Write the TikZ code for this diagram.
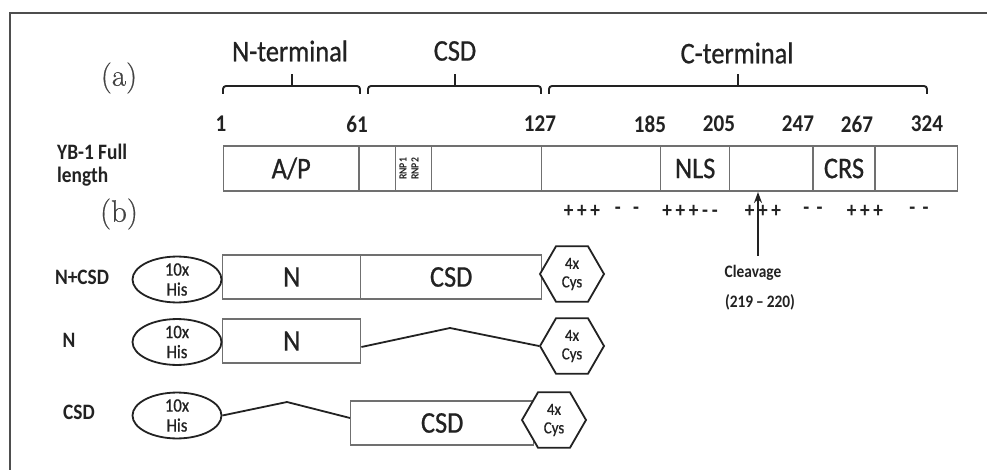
\documentclass[tikz,border=0pt]{standalone}
\usepackage{fontspec}
\newfontfamily\cali[FakeStretch=0.88, FakeBold=0.7]{Carlito}
\newfontfamily\calb[FakeStretch=0.88, UprightFont=* Bold]{Carlito}
\newfontfamily\panelfont[FakeBold=0.5]{Latin Modern Roman}
\usetikzlibrary{shapes.geometric,arrows.meta}
\newcommand\myfs[2]{\fontsize{#1}{#2}\selectfont}
\definecolor{ink}{HTML}{222222}
\definecolor{boxline}{HTML}{707070}
\begin{document}
\begin{tikzpicture}[x=1pt,y=-1pt,
  frameline/.style={draw=ink!80, line width=1.6pt},
  bracepath/.style={draw=ink, line width=1.9pt, rounded corners=3pt},
  head/.style={font=\cali\myfs{30}{32}, text=ink, inner sep=0},
  num/.style={font=\calb\myfs{24}{26}, text=ink, inner sep=0},
  seg/.style={draw=boxline, line width=1.4pt, minimum height=45, inner sep=0, anchor=west, font=\cali\myfs{30}{32}, text=ink},
  rowbox/.style={draw=boxline, line width=1.4pt, minimum height=44, inner sep=0, anchor=west, font=\cali\myfs{30}{32}, text=ink},
  rowlab/.style={font=\calb\myfs{22}{23}, text=ink, inner sep=0},
  his/.style={ellipse, draw=ink, line width=1.8pt, minimum width=89, minimum height=45, inner sep=0, align=center, font=\cali\myfs{19}{20}, text=ink, fill=white},
  hex/.style={regular polygon, regular polygon sides=6, draw=ink, line width=1.8pt, minimum size=64, inner sep=0, align=center, font=\cali\myfs{17}{18.5}, text=ink, fill=white},
  conn/.style={draw=ink, line width=1.8pt},
  charge/.style={font=\calb\myfs{22}{22}, text=ink, inner sep=0},
  cleav/.style={font=\calb\myfs{17.5}{18}, text=ink, inner sep=0},
  panel/.style={font=\panelfont\myfs{31}{33}, text=ink!85, inner sep=0}
]
\useasboundingbox (0,0) rectangle (987,470);
\fill[white] (0,0) rectangle (987,470);
\draw[frameline] (10,470) -- (10,13) -- (987,13);

% panel labels
\node[panel] (pa) at (119,78) {(a)};
\node[panel] (pb) at (119,214) {(b)};

% headers and braces
\node[head] (hN) at (290,51) {N-terminal};
\node[head] (hC) at (455,51) {CSD};
\node[head] (hT) at (737,53) {C-terminal};
\draw[bracepath] (223,94) -- (223,86) -- (360,86) -- (360,94);
\draw[bracepath] (292,86) -- (292,74);
\draw[bracepath] (368,94) -- (368,86) -- (541,86) -- (541,94);
\draw[bracepath] (455,86) -- (455,74);
\draw[bracepath] (549,94) -- (549,86) -- (927,86) -- (927,94);
\draw[bracepath] (738,86) -- (738,74);

% residue numbers
\node[num] (n1) at (221,124) {1};
\node[num] (n61) at (357,124) {61};
\node[num] (n127) at (540,124) {127};
\node[num] (n185) at (650,124) {185};
\node[num] (n205) at (719,124) {205};
\node[num] (n247) at (798,124) {247};
\node[num] (n267) at (857,124) {267};
\node[num] (n324) at (927,124) {324};

% full length label
\node[rowlab, anchor=west, align=left] (yb) at (57,165) {YB-1 Full\\length};

% full-length bar
\node[seg, minimum width=135.6] (s1) at (222.7,168.5) {A/P};
\node[seg, minimum width=36.7] (s2) at (358.3,168.5) {};
\node[seg, minimum width=36] (s3) at (395,168.5) {};
\node[seg, minimum width=109.7] (s4) at (431,168.5) {};
\node[seg, minimum width=119.3] (s5) at (540.7,168.5) {};
\node[seg, minimum width=69] (s6) at (660,168.5) {NLS};
\node[seg, minimum width=83.3] (s7) at (729,168.5) {};
\node[seg, minimum width=62] (s8) at (812.3,168.5) {CRS};
\node[seg, minimum width=82.4] (s9) at (874.3,168.5) {};
\node[rotate=90, font=\calb\myfs{11}{12}, text=ink, inner sep=0] (r1) at (403,169) {RNP1};
\node[rotate=90, font=\calb\myfs{11}{12}, text=ink, inner sep=0] (r2) at (415,169) {RNP2};

% charges
\node[charge] (c1) at (582,211) {+\,+\,+};
\node[charge] (c2) at (627,211) {-\;\;-};
\node[charge] (c3) at (690,211) {+\,+\,+\,-\,-};
\node[charge] (c4) at (763,211) {+\,+\,+};
\node[charge] (c5) at (813,211) {-\,\,-};
\node[charge] (c6) at (865,211) {+\,+\,+};
\node[charge] (c7) at (919,211) {-\,\,-};

% cleavage arrow
\coordinate (clb) at (758,256);
\coordinate (clt) at (758,192);
\draw[conn, -{Stealth[length=11pt,width=8pt]}] (clb) -- (clt);
\node[cleav] (clv) at (753,273) {Cleavage};
\node[cleav] (clr) at (760,302) {(219\,–\,220)};

% (b) constructs
\node[rowlab] (l1) at (82,277) {N+CSD};
\node[rowlab] (l2) at (69,340) {N};
\node[rowlab] (l3) at (79,412) {CSD};

% row 1
\node[rowbox, minimum width=138] (n1b) at (222,277) {N};
\node[rowbox, minimum width=181] (c1b) at (360,277) {CSD};
\node[his] (e1) at (177,279.5) {10x\\His};
\node[hex] (h1) at (572,274) {4x\\Cys};

% row 2
\node[rowbox, minimum width=138] (n2b) at (222,341) {N};
\node[his] (e2) at (177,342) {10x\\His};
\node[hex] (h2) at (572,346) {4x\\Cys};
\coordinate (pk2) at (450,328);
\draw[conn] ([yshift=-6pt]n2b.east) -- (pk2) -- (h2.west);

% row 3
\node[rowbox, minimum width=183] (c3b) at (350,423) {CSD};
\node[his] (e3) at (177,415.5) {10x\\His};
\node[hex] (h3) at (554,420) {4x\\Cys};
\coordinate (pk3) at (287,402);
\draw[conn] (e3.east) -- (pk3) -- ([yshift=5pt]c3b.west);
\end{tikzpicture}
\end{document}
